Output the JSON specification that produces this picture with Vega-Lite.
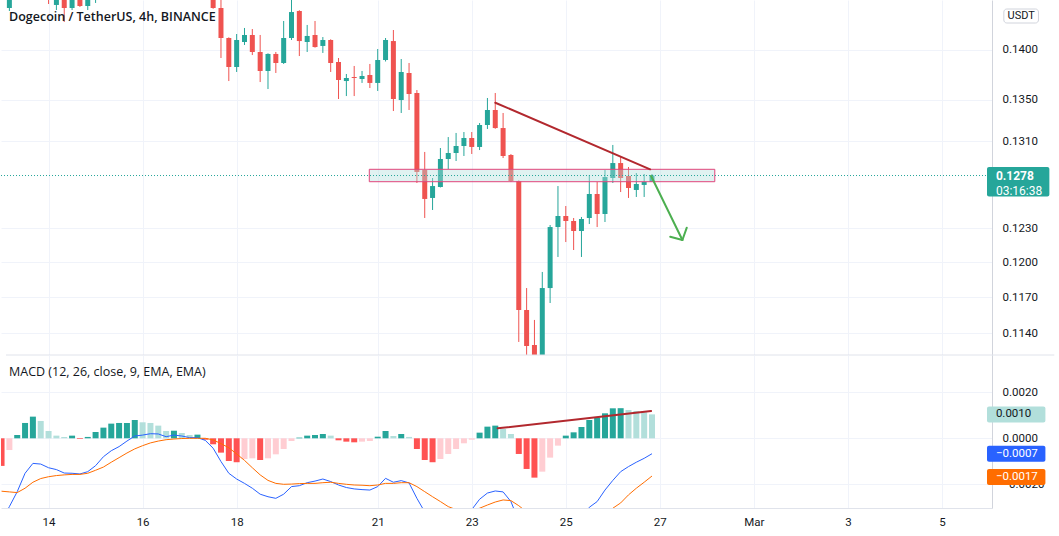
{
  "$schema": "https://vega.github.io/schema/vega-lite/v6.json",
  "padding": 0,
  "background": "white",
  "spacing": 0,
  "bounds": "flush",
  "config": {
    "view": {"stroke": null},
    "font": "Roboto",
    "axis": {"labelFont": "Roboto", "labelFontSize": 11.5, "labelColor": "#131722", "gridColor": "#f0f3fa", "domainColor": "#d1d4dc", "ticks": false, "title": null, "labelOverlap": false, "labelFlush": false}
  },
  "resolve": {"scale": {"x": "independent", "y": "independent", "color": "independent"}},
  "datasets": {
    "candles": [
      {"t": "2022-02-13T04:00Z", "o": 0.14428, "h": 0.1465, "l": 0.14397, "c": 0.146},
      {"t": "2022-02-14T00:00Z", "o": 0.147, "h": 0.148, "l": 0.1447, "c": 0.146},
      {"t": "2022-02-14T04:00Z", "o": 0.1446, "h": 0.148, "l": 0.14407, "c": 0.147},
      {"t": "2022-02-14T08:00Z", "o": 0.147, "h": 0.148, "l": 0.14283, "c": 0.14428},
      {"t": "2022-02-14T12:00Z", "o": 0.14428, "h": 0.147, "l": 0.14407, "c": 0.1465},
      {"t": "2022-02-14T16:00Z", "o": 0.1465, "h": 0.147, "l": 0.14439, "c": 0.14449},
      {"t": "2022-02-14T20:00Z", "o": 0.14449, "h": 0.147, "l": 0.14407, "c": 0.1465},
      {"t": "2022-02-15T00:00Z", "o": 0.1466, "h": 0.148, "l": 0.14481, "c": 0.1475},
      {"t": "2022-02-17T12:00Z", "o": 0.146, "h": 0.147, "l": 0.1442, "c": 0.14428},
      {"t": "2022-02-17T16:00Z", "o": 0.14428, "h": 0.1455, "l": 0.13915, "c": 0.14118},
      {"t": "2022-02-17T20:00Z", "o": 0.14118, "h": 0.14125, "l": 0.13685, "c": 0.13825},
      {"t": "2022-02-18T00:00Z", "o": 0.13825, "h": 0.14159, "l": 0.13775, "c": 0.14098},
      {"t": "2022-02-18T04:00Z", "o": 0.14077, "h": 0.14221, "l": 0.14047, "c": 0.14149},
      {"t": "2022-02-18T08:00Z", "o": 0.14149, "h": 0.1421, "l": 0.13945, "c": 0.13976},
      {"t": "2022-02-18T12:00Z", "o": 0.13976, "h": 0.14149, "l": 0.13675, "c": 0.13785},
      {"t": "2022-02-18T16:00Z", "o": 0.13785, "h": 0.13962, "l": 0.13606, "c": 0.13956},
      {"t": "2022-02-18T20:00Z", "o": 0.13956, "h": 0.13976, "l": 0.13765, "c": 0.13865},
      {"t": "2022-02-19T00:00Z", "o": 0.13865, "h": 0.14293, "l": 0.13855, "c": 0.14118},
      {"t": "2022-02-19T04:00Z", "o": 0.14118, "h": 0.1455, "l": 0.14098, "c": 0.14386},
      {"t": "2022-02-19T08:00Z", "o": 0.14397, "h": 0.14405, "l": 0.13935, "c": 0.14087},
      {"t": "2022-02-19T12:00Z", "o": 0.14077, "h": 0.14252, "l": 0.13976, "c": 0.14139},
      {"t": "2022-02-19T16:00Z", "o": 0.14149, "h": 0.14293, "l": 0.1402, "c": 0.14026},
      {"t": "2022-02-19T20:00Z", "o": 0.14037, "h": 0.14128, "l": 0.13966, "c": 0.14098},
      {"t": "2022-02-20T00:00Z", "o": 0.14098, "h": 0.14105, "l": 0.13775, "c": 0.13865},
      {"t": "2022-02-20T04:00Z", "o": 0.13875, "h": 0.13915, "l": 0.13508, "c": 0.13695},
      {"t": "2022-02-20T08:00Z", "o": 0.13685, "h": 0.13755, "l": 0.13537, "c": 0.13715},
      {"t": "2022-02-20T12:00Z", "o": 0.13725, "h": 0.13835, "l": 0.13537, "c": 0.13715},
      {"t": "2022-02-20T16:00Z", "o": 0.13705, "h": 0.13785, "l": 0.13666, "c": 0.13735},
      {"t": "2022-02-20T20:00Z", "o": 0.13745, "h": 0.13855, "l": 0.13616, "c": 0.13666},
      {"t": "2022-02-21T00:00Z", "o": 0.13666, "h": 0.14006, "l": 0.13587, "c": 0.13895},
      {"t": "2022-02-21T04:00Z", "o": 0.13895, "h": 0.14118, "l": 0.1388, "c": 0.14098},
      {"t": "2022-02-21T08:00Z", "o": 0.14087, "h": 0.142, "l": 0.13391, "c": 0.13508},
      {"t": "2022-02-21T12:00Z", "o": 0.13498, "h": 0.13905, "l": 0.13372, "c": 0.13775},
      {"t": "2022-02-21T16:00Z", "o": 0.13765, "h": 0.13865, "l": 0.13401, "c": 0.13557},
      {"t": "2022-02-21T20:00Z", "o": 0.13567, "h": 0.13596, "l": 0.12711, "c": 0.12813},
      {"t": "2022-02-22T00:00Z", "o": 0.12831, "h": 0.13, "l": 0.12393, "c": 0.12565},
      {"t": "2022-02-22T04:00Z", "o": 0.12574, "h": 0.12757, "l": 0.12465, "c": 0.12683},
      {"t": "2022-02-22T08:00Z", "o": 0.12674, "h": 0.13037, "l": 0.1267, "c": 0.12934},
      {"t": "2022-02-22T12:00Z", "o": 0.12934, "h": 0.13141, "l": 0.1284, "c": 0.1299},
      {"t": "2022-02-22T16:00Z", "o": 0.1299, "h": 0.1318, "l": 0.12915, "c": 0.13056},
      {"t": "2022-02-22T20:00Z", "o": 0.13056, "h": 0.13189, "l": 0.12962, "c": 0.13132},
      {"t": "2022-02-23T00:00Z", "o": 0.13132, "h": 0.13189, "l": 0.12981, "c": 0.13047},
      {"t": "2022-02-23T04:00Z", "o": 0.13047, "h": 0.13275, "l": 0.13018, "c": 0.13256},
      {"t": "2022-02-23T08:00Z", "o": 0.13256, "h": 0.13518, "l": 0.13218, "c": 0.13401},
      {"t": "2022-02-23T12:00Z", "o": 0.13401, "h": 0.13567, "l": 0.1322, "c": 0.13227},
      {"t": "2022-02-23T16:00Z", "o": 0.13227, "h": 0.13372, "l": 0.12943, "c": 0.12962},
      {"t": "2022-02-23T20:00Z", "o": 0.12971, "h": 0.1298, "l": 0.1272, "c": 0.12729},
      {"t": "2022-02-24T00:00Z", "o": 0.12729, "h": 0.12735, "l": 0.11329, "c": 0.11594},
      {"t": "2022-02-24T04:00Z", "o": 0.11594, "h": 0.1178, "l": 0.112, "c": 0.11296},
      {"t": "2022-02-24T08:00Z", "o": 0.11304, "h": 0.11511, "l": 0.109, "c": 0.1105},
      {"t": "2022-02-24T12:00Z", "o": 0.1105, "h": 0.11918, "l": 0.1095, "c": 0.1178},
      {"t": "2022-02-24T16:00Z", "o": 0.1178, "h": 0.1233, "l": 0.11653, "c": 0.12312},
      {"t": "2022-02-24T20:00Z", "o": 0.12312, "h": 0.12683, "l": 0.12048, "c": 0.12411},
      {"t": "2022-02-25T00:00Z", "o": 0.12411, "h": 0.12501, "l": 0.12179, "c": 0.12366},
      {"t": "2022-02-25T04:00Z", "o": 0.12366, "h": 0.12393, "l": 0.12109, "c": 0.12277},
      {"t": "2022-02-25T08:00Z", "o": 0.12277, "h": 0.12402, "l": 0.12048, "c": 0.12384},
      {"t": "2022-02-25T12:00Z", "o": 0.12393, "h": 0.12785, "l": 0.12339, "c": 0.1261},
      {"t": "2022-02-25T16:00Z", "o": 0.1261, "h": 0.1272, "l": 0.12312, "c": 0.12429},
      {"t": "2022-02-25T20:00Z", "o": 0.12429, "h": 0.12831, "l": 0.12357, "c": 0.12766},
      {"t": "2022-02-26T00:00Z", "o": 0.12757, "h": 0.13066, "l": 0.12711, "c": 0.12896},
      {"t": "2022-02-26T04:00Z", "o": 0.12896, "h": 0.12953, "l": 0.12628, "c": 0.12757},
      {"t": "2022-02-26T08:00Z", "o": 0.12776, "h": 0.12859, "l": 0.12574, "c": 0.12665},
      {"t": "2022-02-26T12:00Z", "o": 0.12647, "h": 0.12803, "l": 0.12583, "c": 0.12702},
      {"t": "2022-02-26T16:00Z", "o": 0.12693, "h": 0.12794, "l": 0.12583, "c": 0.1272},
      {"t": "2022-02-26T20:00Z", "o": 0.1272, "h": 0.12794, "l": 0.1272, "c": 0.1278}
    ],
    "macd": [
      {"t": "2022-02-13T00:00Z", "h": -0.0012, "st": "down", "m": -0.0036, "s": -0.0023},
      {"t": "2022-02-13T04:00Z", "h": -0.00051, "st": "down-weak", "m": -0.00297, "s": -0.00233},
      {"t": "2022-02-13T08:00Z", "h": 0.000145, "st": "up", "m": -0.00232, "s": -0.00236},
      {"t": "2022-02-13T12:00Z", "h": 0.000667, "st": "up", "m": -0.00152, "s": -0.00217},
      {"t": "2022-02-13T16:00Z", "h": 0.000942, "st": "up", "m": -0.00109, "s": -0.00191},
      {"t": "2022-02-13T20:00Z", "h": 0.000754, "st": "up-weak", "m": -0.00112, "s": -0.00175},
      {"t": "2022-02-14T00:00Z", "h": 0.000319, "st": "up-weak", "m": -0.00128, "s": -0.00167},
      {"t": "2022-02-14T04:00Z", "h": 0.000116, "st": "up-weak", "m": -0.00136, "s": -0.00162},
      {"t": "2022-02-14T08:00Z", "h": 0.00006, "st": "up-weak", "m": -0.00151, "s": -0.00159},
      {"t": "2022-02-14T12:00Z", "h": 0.000116, "st": "up", "m": -0.00152, "s": -0.00157},
      {"t": "2022-02-14T16:00Z", "h": -0.00003, "st": "down", "m": -0.00155, "s": -0.00157},
      {"t": "2022-02-14T20:00Z", "h": 0.00006, "st": "up", "m": -0.00145, "s": -0.00152},
      {"t": "2022-02-15T00:00Z", "h": 0.000275, "st": "up", "m": -0.00119, "s": -0.00139},
      {"t": "2022-02-15T04:00Z", "h": 0.000464, "st": "up", "m": -0.0008, "s": -0.00125},
      {"t": "2022-02-15T08:00Z", "h": 0.000638, "st": "up", "m": -0.00054, "s": -0.00104},
      {"t": "2022-02-15T12:00Z", "h": 0.000667, "st": "up", "m": -0.00036, "s": -0.00084},
      {"t": "2022-02-15T16:00Z", "h": 0.000667, "st": "up", "m": -0.00012, "s": -0.00064},
      {"t": "2022-02-15T20:00Z", "h": 0.000797, "st": "up", "m": 0.0001, "s": -0.00046},
      {"t": "2022-02-16T00:00Z", "h": 0.000696, "st": "up-weak", "m": 0.00014, "s": -0.00032},
      {"t": "2022-02-16T04:00Z", "h": 0.000667, "st": "up-weak", "m": 0.0002, "s": -0.0002},
      {"t": "2022-02-16T08:00Z", "h": 0.000551, "st": "up-weak", "m": 0.00019, "s": -0.00012},
      {"t": "2022-02-16T12:00Z", "h": 0.000319, "st": "up-weak", "m": 0.00007, "s": -0.00006},
      {"t": "2022-02-16T16:00Z", "h": 0.00033, "st": "up", "m": 0.00014, "s": -0.00003},
      {"t": "2022-02-16T20:00Z", "h": 0.000232, "st": "up-weak", "m": 0.0001, "s": -0.00001},
      {"t": "2022-02-17T00:00Z", "h": 0.000145, "st": "up-weak", "m": 0.00003, "s": 0},
      {"t": "2022-02-17T04:00Z", "h": 0.00016, "st": "up", "m": 0.00003, "s": 0},
      {"t": "2022-02-17T08:00Z", "h": -0.00006, "st": "down", "m": -0.00009, "s": 0},
      {"t": "2022-02-17T12:00Z", "h": -0.00026, "st": "down", "m": -0.00043, "s": -0.00007},
      {"t": "2022-02-17T16:00Z", "h": -0.000623, "st": "down", "m": -0.00101, "s": -0.00023},
      {"t": "2022-02-17T20:00Z", "h": -0.000986, "st": "down", "m": -0.00152, "s": -0.00041},
      {"t": "2022-02-18T00:00Z", "h": -0.00104, "st": "down", "m": -0.00177, "s": -0.00068},
      {"t": "2022-02-18T04:00Z", "h": -0.000899, "st": "down-weak", "m": -0.00196, "s": -0.00096},
      {"t": "2022-02-18T08:00Z", "h": -0.00087, "st": "down-weak", "m": -0.00217, "s": -0.00128},
      {"t": "2022-02-18T12:00Z", "h": -0.000942, "st": "down", "m": -0.00243, "s": -0.00159},
      {"t": "2022-02-18T16:00Z", "h": -0.00087, "st": "down-weak", "m": -0.00254, "s": -0.00183},
      {"t": "2022-02-18T20:00Z", "h": -0.000696, "st": "down-weak", "m": -0.00261, "s": -0.00196},
      {"t": "2022-02-19T00:00Z", "h": -0.000464, "st": "down-weak", "m": -0.00243, "s": -0.002},
      {"t": "2022-02-19T04:00Z", "h": -0.000116, "st": "down-weak", "m": -0.0021, "s": -0.00199},
      {"t": "2022-02-19T08:00Z", "h": 0.00003, "st": "up", "m": -0.00206, "s": -0.00197},
      {"t": "2022-02-19T12:00Z", "h": 0.000116, "st": "up", "m": -0.00193, "s": -0.00196},
      {"t": "2022-02-19T16:00Z", "h": 0.000145, "st": "up", "m": -0.00186, "s": -0.00196},
      {"t": "2022-02-19T20:00Z", "h": 0.000188, "st": "up", "m": -0.00177, "s": -0.00193},
      {"t": "2022-02-20T00:00Z", "h": 0.000116, "st": "up-weak", "m": -0.00188, "s": -0.00191},
      {"t": "2022-02-20T04:00Z", "h": -0.000087, "st": "down", "m": -0.00203, "s": -0.00196},
      {"t": "2022-02-20T08:00Z", "h": -0.000145, "st": "down", "m": -0.00214, "s": -0.002},
      {"t": "2022-02-20T12:00Z", "h": -0.000174, "st": "down", "m": -0.0022, "s": -0.00203},
      {"t": "2022-02-20T16:00Z", "h": -0.000145, "st": "down-weak", "m": -0.00223, "s": -0.00204},
      {"t": "2022-02-20T20:00Z", "h": -0.000116, "st": "down-weak", "m": -0.00225, "s": -0.00206},
      {"t": "2022-02-21T00:00Z", "h": 0.00007, "st": "up", "m": -0.0021, "s": -0.00203},
      {"t": "2022-02-21T04:00Z", "h": 0.000319, "st": "up", "m": -0.00174, "s": -0.00196},
      {"t": "2022-02-21T08:00Z", "h": 0.0001, "st": "up-weak", "m": -0.00191, "s": -0.00196},
      {"t": "2022-02-21T12:00Z", "h": 0.000188, "st": "up", "m": -0.00184, "s": -0.00193},
      {"t": "2022-02-21T16:00Z", "h": 0.00006, "st": "up-weak", "m": -0.00194, "s": -0.00193},
      {"t": "2022-02-21T20:00Z", "h": -0.000464, "st": "down", "m": -0.00261, "s": -0.0021},
      {"t": "2022-02-22T00:00Z", "h": -0.000942, "st": "down", "m": -0.0032, "s": -0.00232},
      {"t": "2022-02-22T04:00Z", "h": -0.00104, "st": "down", "m": -0.0036, "s": -0.00254},
      {"t": "2022-02-22T08:00Z", "h": -0.000899, "st": "down-weak", "m": -0.0038, "s": -0.00275},
      {"t": "2022-02-22T12:00Z", "h": -0.000681, "st": "down-weak", "m": -0.0038, "s": -0.00297},
      {"t": "2022-02-22T16:00Z", "h": -0.000464, "st": "down-weak", "m": -0.0036, "s": -0.0031},
      {"t": "2022-02-22T20:00Z", "h": -0.000217, "st": "down-weak", "m": -0.0033, "s": -0.00315},
      {"t": "2022-02-23T00:00Z", "h": -0.00006, "st": "down-weak", "m": -0.0031, "s": -0.00312},
      {"t": "2022-02-23T04:00Z", "h": 0.000246, "st": "up", "m": -0.00265, "s": -0.00304},
      {"t": "2022-02-23T08:00Z", "h": 0.000507, "st": "up", "m": -0.00238, "s": -0.0029},
      {"t": "2022-02-23T12:00Z", "h": 0.000551, "st": "up", "m": -0.00229, "s": -0.00277},
      {"t": "2022-02-23T16:00Z", "h": 0.000406, "st": "up-weak", "m": -0.00233, "s": -0.00268},
      {"t": "2022-02-23T20:00Z", "h": 0.000188, "st": "up-weak", "m": -0.00275, "s": -0.00271},
      {"t": "2022-02-24T00:00Z", "h": -0.000681, "st": "down", "m": -0.0036, "s": -0.00293},
      {"t": "2022-02-24T04:00Z", "h": -0.001333, "st": "down", "m": -0.0045, "s": -0.0032},
      {"t": "2022-02-24T08:00Z", "h": -0.00171, "st": "down", "m": -0.0053, "s": -0.0036},
      {"t": "2022-02-24T12:00Z", "h": -0.00145, "st": "down-weak", "m": -0.0054, "s": -0.004},
      {"t": "2022-02-24T16:00Z", "h": -0.00084, "st": "down-weak", "m": -0.0051, "s": -0.0042},
      {"t": "2022-02-24T20:00Z", "h": -0.000319, "st": "down-weak", "m": -0.0046, "s": -0.0043},
      {"t": "2022-02-25T00:00Z", "h": 0.000116, "st": "up", "m": -0.0042, "s": -0.0043},
      {"t": "2022-02-25T04:00Z", "h": 0.00026, "st": "up", "m": -0.0039, "s": -0.0042},
      {"t": "2022-02-25T08:00Z", "h": 0.000493, "st": "up", "m": -0.0035, "s": -0.004},
      {"t": "2022-02-25T12:00Z", "h": 0.000797, "st": "up", "m": -0.003, "s": -0.0038},
      {"t": "2022-02-25T16:00Z", "h": 0.000899, "st": "up", "m": -0.00275, "s": -0.0036},
      {"t": "2022-02-25T20:00Z", "h": 0.001087, "st": "up", "m": -0.00225, "s": -0.0034},
      {"t": "2022-02-26T00:00Z", "h": 0.001304, "st": "up", "m": -0.00183, "s": -0.00304},
      {"t": "2022-02-26T04:00Z", "h": 0.00131, "st": "up", "m": -0.00145, "s": -0.00281},
      {"t": "2022-02-26T08:00Z", "h": 0.001232, "st": "up-weak", "m": -0.00123, "s": -0.00246},
      {"t": "2022-02-26T12:00Z", "h": 0.001188, "st": "up-weak", "m": -0.00104, "s": -0.00217},
      {"t": "2022-02-26T16:00Z", "h": 0.00113, "st": "up-weak", "m": -0.00087, "s": -0.00191},
      {"t": "2022-02-26T20:00Z", "h": 0.00104, "st": "up-weak", "m": -0.00067, "s": -0.00164}
    ]
  },
  "vconcat": [
    {
      "width": 991,
      "height": 355,
      "title": {"text": "Dogecoin / TetherUS, 4h, BINANCE", "anchor": "start", "frame": "group", "orient": "top", "offset": -33, "dx": 8, "font": "Open Sans", "fontSize": 12.5, "fontWeight": 600, "color": "#131722", "baseline": "alphabetic"},
      "layer": [
        {
          "data": {"name": "candles"},
          "mark": {"type": "rule", "strokeWidth": 1, "clip": true},
          "encoding": {
            "x": {"field": "t", "type": "temporal", "scale": {"type": "utc", "domain": [1644718585263, 1646521162105]},
              "axis": {"orient": "bottom", "values": [{"year": 2022, "month": "feb", "date": 14, "utc": true}, {"year": 2022, "month": "feb", "date": 16, "utc": true}, {"year": 2022, "month": "feb", "date": 18, "utc": true}, {"year": 2022, "month": "feb", "date": 21, "utc": true}, {"year": 2022, "month": "feb", "date": 23, "utc": true}, {"year": 2022, "month": "feb", "date": 25, "utc": true}, {"year": 2022, "month": "feb", "date": 27, "utc": true}, {"year": 2022, "month": "mar", "date": 1, "utc": true}, {"year": 2022, "month": "mar", "date": 3, "utc": true}, {"year": 2022, "month": "mar", "date": 5, "utc": true}], "labels": false, "domain": false, "grid": true}},
            "y": {"field": "l", "type": "quantitative", "scale": {"type": "log", "domain": [0.112225, 0.14512], "nice": false},
              "axis": {"orient": "right", "values": [0.114, 0.117, 0.12, 0.123, 0.131, 0.135, 0.14], "format": ".4f", "labelPadding": 10, "domain": true, "grid": true}},
            "y2": {"field": "h"},
            "color": {"condition": {"test": "datum.c >= datum.o", "value": "#26a69a"}, "value": "#ef5350"}
          }
        },
        {
          "data": {"name": "candles"},
          "mark": {"type": "bar", "size": 5, "clip": true},
          "encoding": {
            "x": {"field": "t", "type": "temporal"},
            "y": {"field": "o", "type": "quantitative"},
            "y2": {"field": "c"},
            "color": {"condition": {"test": "datum.c >= datum.o", "value": "#26a69a"}, "value": "#ef5350"}
          }
        },
        {
          "data": {"values": [{"from": "2022-02-20T19:42Z", "to": "2022-02-28T04:03Z", "lo": 0.127229, "hi": 0.128377}]},
          "mark": {"type": "rect", "fill": "#b2dfdb", "fillOpacity": 0.4, "stroke": "#e0457b", "strokeWidth": 1},
          "encoding": {
            "x": {"field": "from", "type": "temporal"},
            "x2": {"field": "to"},
            "y": {"field": "lo", "type": "quantitative"},
            "y2": {"field": "hi"}
          }
        },
        {
          "data": {"values": [{"price": 0.1278}]},
          "mark": {"type": "rule", "color": "#26a69a", "strokeDash": [1, 2], "strokeWidth": 1},
          "encoding": {"y": {"field": "price", "type": "quantitative"}}
        },
        {
          "data": {"values": [
            {"seg": "resistance", "kind": "trend", "t": "2022-02-23T12:02Z", "p": 0.134719},
            {"seg": "resistance", "kind": "trend", "t": "2022-02-26T19:03Z", "p": 0.128377},
            {"seg": "arrow", "kind": "target", "t": "2022-02-26T19:33Z", "p": 0.127755},
            {"seg": "arrow", "kind": "target", "t": "2022-02-27T11:31Z", "p": 0.12197},
            {"seg": "head-left", "kind": "target", "t": "2022-02-27T05:18Z", "p": 0.122262},
            {"seg": "head-left", "kind": "target", "t": "2022-02-27T11:31Z", "p": 0.12197},
            {"seg": "head-right", "kind": "target", "t": "2022-02-27T11:31Z", "p": 0.12197},
            {"seg": "head-right", "kind": "target", "t": "2022-02-27T13:45Z", "p": 0.123061}
          ]},
          "mark": {"type": "line", "strokeWidth": 2, "strokeCap": "round"},
          "encoding": {
            "x": {"field": "t", "type": "temporal"},
            "y": {"field": "p", "type": "quantitative"},
            "detail": {"field": "seg"},
            "color": {"field": "kind", "type": "nominal", "scale": {"domain": ["trend", "target"], "range": ["#b2282e", "#4caf50"]}, "legend": null}
          }
        },
        {
          "data": {"values": [{"a": 1644718585263, "b": 1646644850526, "p": 0.112225}]},
          "mark": {"type": "rule", "color": "#e0e3eb", "strokeWidth": 1, "clip": false},
          "encoding": {
            "x": {"field": "a", "type": "temporal"},
            "x2": {"field": "b"},
            "y": {"field": "p", "type": "quantitative"}
          }
        },
        {
          "data": {"values": [{"price": 0.1278, "label": "0.1278", "timer": "03:16:38"}]},
          "layer": [
            {
              "mark": {"type": "rect", "fill": "#26a69a", "cornerRadius": 2, "clip": false, "yOffset": -8.5, "y2Offset": 21},
              "encoding": {
                "x": {"datum": 1646521162105, "type": "temporal"},
                "x2": {"datum": 1646635755789},
                "y": {"field": "price", "type": "quantitative"},
                "y2": {"field": "price"}
              }
            },
            {
              "mark": {"type": "text", "align": "left", "baseline": "middle", "color": "white", "fontWeight": "bold", "fontSize": 12, "font": "Roboto", "clip": false},
              "encoding": {
                "x": {"datum": 1646537532631, "type": "temporal"},
                "y": {"field": "price", "type": "quantitative"},
                "text": {"field": "label"}
              }
            },
            {
              "mark": {"type": "text", "align": "left", "baseline": "middle", "color": "white", "fontSize": 12, "font": "Roboto", "dy": 15, "clip": false},
              "encoding": {
                "x": {"datum": 1646537532631, "type": "temporal"},
                "y": {"field": "price", "type": "quantitative"},
                "text": {"field": "timer"}
              }
            }
          ]
        },
        {
          "data": {"values": [{"unit": "USDT", "p": 0.143448}]},
          "layer": [
            {
              "mark": {"type": "rect", "fill": "white", "stroke": "#d1d4dc", "cornerRadius": 3, "clip": false, "yOffset": -7, "y2Offset": 7},
              "encoding": {
                "x": {"datum": 1646552084210, "type": "temporal"},
                "x2": {"datum": 1646615747368},
                "y": {"field": "p", "type": "quantitative"},
                "y2": {"field": "p"}
              }
            },
            {
              "mark": {"type": "text", "align": "center", "baseline": "middle", "color": "#131722", "fontSize": 11, "font": "Roboto", "clip": false},
              "encoding": {
                "x": {"datum": 1646583915789, "type": "temporal"},
                "y": {"field": "p", "type": "quantitative"},
                "text": {"field": "unit"}
              }
            }
          ]
        }
      ]
    },
    {
      "width": 991,
      "height": 153,
      "title": {"text": "MACD (12, 26, close, 9, EMA, EMA)", "anchor": "start", "frame": "group", "orient": "top", "offset": -33, "dx": 8, "font": "Open Sans", "fontSize": 12.5, "fontWeight": "normal", "color": "#131722", "baseline": "alphabetic"},
      "layer": [
        {
          "data": {"name": "macd"},
          "mark": {"type": "bar", "size": 6, "clip": true},
          "encoding": {
            "x": {"field": "t", "type": "temporal", "scale": {"type": "utc", "domain": [1644718585263, 1646521162105]},
              "axis": {"orient": "bottom", "values": [{"year": 2022, "month": "feb", "date": 14, "utc": true}, {"year": 2022, "month": "feb", "date": 16, "utc": true}, {"year": 2022, "month": "feb", "date": 18, "utc": true}, {"year": 2022, "month": "feb", "date": 21, "utc": true}, {"year": 2022, "month": "feb", "date": 23, "utc": true}, {"year": 2022, "month": "feb", "date": 25, "utc": true}, {"year": 2022, "month": "feb", "date": 27, "utc": true}, {"year": 2022, "month": "mar", "date": 1, "utc": true}, {"year": 2022, "month": "mar", "date": 3, "utc": true}, {"year": 2022, "month": "mar", "date": 5, "utc": true}],
                "labelExpr": "utcdate(datum.value) === 1 ? utcFormat(datum.value, '%b') : utcFormat(datum.value, '%-d')", "labelPadding": 8, "domain": true, "domainColor": "#e0e3eb", "grid": true}},
            "y": {"field": "h", "type": "quantitative", "scale": {"domain": [-0.00303, 0.003622], "nice": false, "zero": false},
              "axis": {"orient": "right", "values": [-0.002, 0, 0.002], "format": ".4f", "labelPadding": 10, "domain": true, "grid": true}},
            "color": {"field": "st", "type": "nominal", "scale": {"domain": ["up", "up-weak", "down", "down-weak"], "range": ["#26a69a", "#b2dfdb", "#ff5252", "#ffcdd2"]}, "legend": null}
          }
        },
        {
          "data": {"name": "macd"},
          "mark": {"type": "line", "color": "#2962ff", "strokeWidth": 1, "clip": true},
          "encoding": {
            "x": {"field": "t", "type": "temporal"},
            "y": {"field": "m", "type": "quantitative"}
          }
        },
        {
          "data": {"name": "macd"},
          "mark": {"type": "line", "color": "#ff6d00", "strokeWidth": 1, "clip": true},
          "encoding": {
            "x": {"field": "t", "type": "temporal"},
            "y": {"field": "s", "type": "quantitative"}
          }
        },
        {
          "data": {"values": [{"t": "2022-02-23T13:14Z", "v": 0.000435}, {"t": "2022-02-26T19:33Z", "v": 0.001187}]},
          "mark": {"type": "line", "color": "#b2282e", "strokeWidth": 2, "strokeCap": "round"},
          "encoding": {
            "x": {"field": "t", "type": "temporal"},
            "y": {"field": "v", "type": "quantitative"}
          }
        },
        {
          "data": {"values": [
            {"series": "Histogram", "v": 0.00104, "label": "0.0010"},
            {"series": "MACD", "v": -0.00067, "label": "\u22120.0007"},
            {"series": "Signal", "v": -0.00168, "label": "\u22120.0017"}
          ]},
          "layer": [
            {
              "mark": {"type": "rect", "cornerRadius": 2, "clip": false, "yOffset": -8, "y2Offset": 8},
              "encoding": {
                "x": {"datum": 1646521162105, "type": "temporal"},
                "x2": {"datum": 1646628480000},
                "y": {"field": "v", "type": "quantitative"},
                "y2": {"field": "v"},
                "fill": {"condition": [{"test": "datum.series === 'MACD'", "value": "#2962ff"}, {"test": "datum.series === 'Signal'", "value": "#ff6d00"}], "value": "#b2dfdb"}
              }
            },
            {
              "mark": {"type": "text", "align": "left", "baseline": "middle", "fontSize": 11.5, "font": "Roboto", "clip": false},
              "encoding": {
                "x": {"datum": 1646537532631, "type": "temporal"},
                "y": {"field": "v", "type": "quantitative"},
                "text": {"field": "label"},
                "color": {"condition": {"test": "datum.series === 'Histogram'", "value": "#131722"}, "value": "white"}
              }
            }
          ]
        }
      ]
    }
  ]
}
